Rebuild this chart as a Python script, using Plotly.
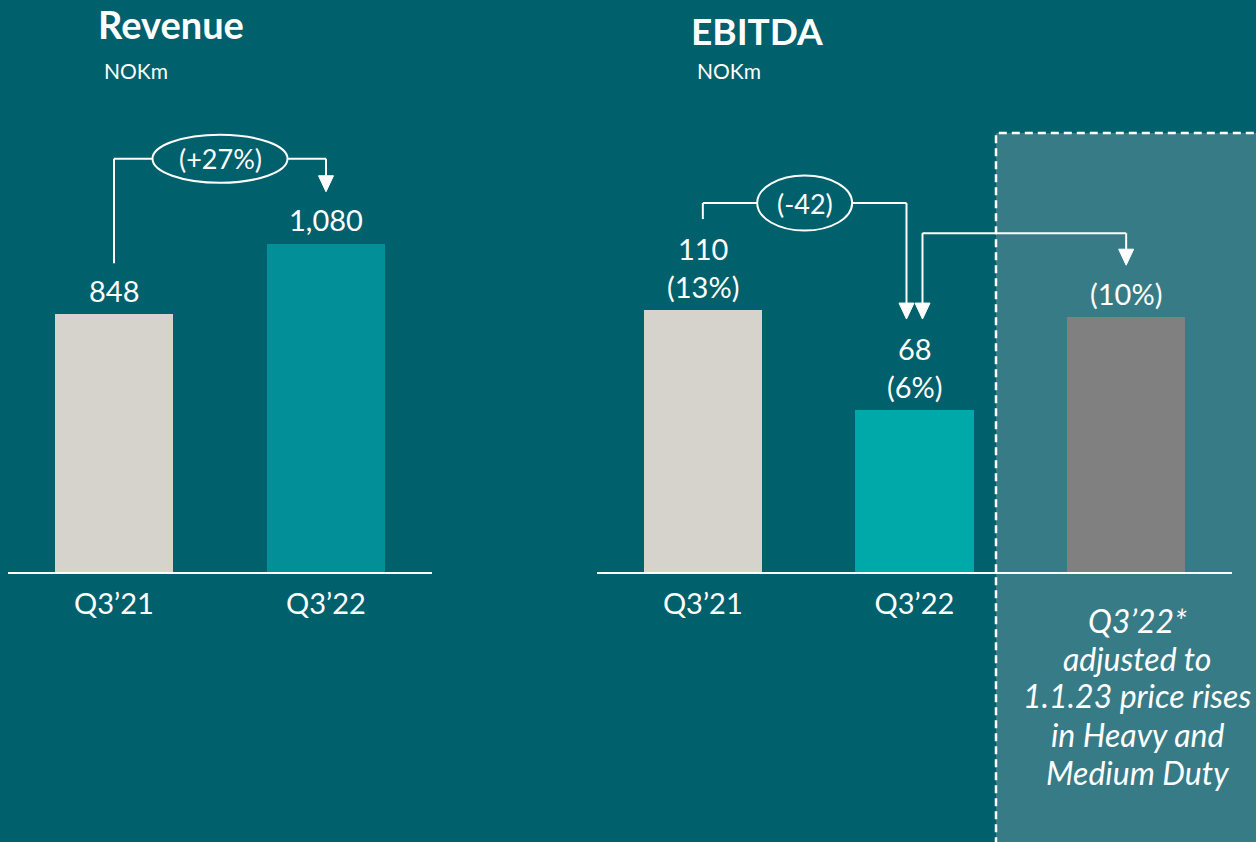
import plotly.graph_objects as go

# ---- data -------------------------------------------------------------
rev_cats = ["Q3’21", "Q3’22"]
rev_values = [848, 1080]
rev_labels = ["848", "1,080"]
rev_change = "(+27%)"

ebitda_cats = ["Q3’21", "Q3’22", "Q3’22*"]
ebitda_ticks = ["Q3’21", "Q3’22", ""]
ebitda_values = [110, 68, 107]
ebitda_value_labels = ["110", "68", ""]
ebitda_margins = ["(13%)", "(6%)", "(10%)"]
ebitda_change = "(-42)"
adjusted_note = ["Q3’22*", "adjusted to", "1.1.23 price rises", "in Heavy and", "Medium Duty"]

# ---- styling ----------------------------------------------------------
W, H = 1256, 842
BASE = 572                      # pixel row of the category axis
BG = "#00606C"
BOX_FILL = "#377B86"
BEIGE = "#D6D2CC"
REV_TEAL = "#038F98"
EB_TEAL = "#00A9A9"
GREY = "#808080"
FONT = "Lato"

rev_colors = [BEIGE, REV_TEAL]
eb_colors = [BEIGE, EB_TEAL, GREY]

rev_dom = [8 / W, 432 / W]
eb_dom = [597 / W, 1232 / W]
rev_rng = [-0.5, 1.5]
eb_rng = [-0.5, 2.5]
rev_ymax = 1882
eb_ymax = 240.2


def px_x(dom, rng, i):
    return dom[0] * W + (i - rng[0]) / (rng[1] - rng[0]) * (dom[1] - dom[0]) * W


def px_y(v, ymax):
    return BASE - v / ymax * BASE


def px(xp, yp):
    return xp / W, (BASE - yp) / BASE


fig = go.Figure()
fig.add_trace(go.Bar(x=rev_cats, y=rev_values, marker=dict(color=rev_colors, line_width=0),
                     width=0.56, xaxis="x", yaxis="y", hoverinfo="skip"))
fig.add_trace(go.Bar(x=ebitda_cats, y=ebitda_values, marker=dict(color=eb_colors, line_width=0),
                     width=0.56, xaxis="x2", yaxis="y2", hoverinfo="skip"))

shapes = []
annotations = []
WHITE = "white"


def seg(x0, y0, x1, y1):
    a = px(x0, y0)
    b = px(x1, y1)
    shapes.append(dict(type="line", xref="paper", yref="paper", x0=a[0], y0=a[1], x1=b[0], y1=b[1],
                       line=dict(color=WHITE, width=2)))


def arrow_down(x, tip, length=16, half=7.5):
    pts = [px(x - half, tip - length), px(x + half, tip - length), px(x, tip)]
    path = "M {} {} L {} {} L {} {} Z".format(pts[0][0], pts[0][1], pts[1][0], pts[1][1], pts[2][0], pts[2][1])
    shapes.append(dict(type="path", xref="paper", yref="paper", path=path,
                       fillcolor=WHITE, line=dict(color=WHITE, width=1)))


def oval(cx, cy, w, h, text):
    a = px(cx - w / 2, cy + h / 2)
    b = px(cx + w / 2, cy - h / 2)
    shapes.append(dict(type="circle", xref="paper", yref="paper", x0=a[0], y0=a[1], x1=b[0], y1=b[1],
                       line=dict(color=WHITE, width=2), fillcolor="rgba(0,0,0,0)"))
    c = px(cx, cy)
    annotations.append(dict(xref="paper", yref="paper", x=c[0], y=c[1], text=text, showarrow=False,
                            xanchor="center", yanchor="middle", font=dict(family=FONT, size=27, color=WHITE)))


# adjusted-price panel behind the third EBITDA bar
b0 = px(996, 133)
shapes.append(dict(type="rect", xref="paper", yref="paper", x0=b0[0], x1=1.05, y0=-0.6, y1=b0[1],
                   fillcolor=BOX_FILL, line=dict(color=WHITE, width=2.5, dash="8px,5px"), layer="below"))

# ---- Revenue change connector -----------------------------------------
r0 = px_x(rev_dom, rev_rng, 0)
r1 = px_x(rev_dom, rev_rng, 1)
rt0 = px_y(rev_values[0], rev_ymax)
rt1 = px_y(rev_values[1], rev_ymax)
lvl = min(rt0, rt1) - 85
ocx, ow = (r0 + r1) / 2, 135
seg(r0, rt0 - 51, r0, lvl)
seg(r0, lvl, ocx - ow / 2, lvl)
seg(ocx + ow / 2, lvl, r1, lvl)
tip = rt1 - 52
seg(r1, lvl, r1, tip - 15)
arrow_down(r1, tip)
oval(ocx, lvl, ow, 48, rev_change)

# ---- EBITDA change connectors -----------------------------------------
e0 = px_x(eb_dom, eb_rng, 0)
e1 = px_x(eb_dom, eb_rng, 1)
e2 = px_x(eb_dom, eb_rng, 2)
et0 = px_y(ebitda_values[0], eb_ymax)
et1 = px_y(ebitda_values[1], eb_ymax)
et2 = px_y(ebitda_values[2], eb_ymax)
lvl_a = et0 - 107
xa = e1 - 8
ecx, ew = (e0 + xa) / 2, 95
seg(e0, et0 - 91, e0, lvl_a)
seg(e0, lvl_a, ecx - ew / 2, lvl_a)
seg(ecx + ew / 2, lvl_a, xa, lvl_a)
tip_a = et1 - 91
seg(xa, lvl_a, xa, tip_a - 15)
arrow_down(xa, tip_a)
oval(ecx, lvl_a, ew, 55, ebitda_change)

lvl_b = et2 - 84
xb = e1 + 8
seg(xb, tip_a - 15, xb, lvl_b)
seg(xb, lvl_b, e2, lvl_b)
tip_b = et2 - 52
seg(e2, lvl_b, e2, tip_b - 15)
arrow_down(xb, tip_a)
arrow_down(e2, tip_b)

# ---- value labels -------------------------------------------------------
LBL = dict(family=FONT, size=29, color=WHITE)
for c, v, t in zip(rev_cats, rev_values, rev_labels):
    annotations.append(dict(xref="x", yref="y", x=c, y=v, text=t, showarrow=False,
                            xanchor="center", yanchor="middle", yshift=24, font=LBL))
for c, v, t, m in zip(ebitda_cats, ebitda_values, ebitda_value_labels, ebitda_margins):
    lines = [s for s in (t, m) if s]
    annotations.append(dict(xref="x2", yref="y2", x=c, y=v, text="<br>".join(lines), showarrow=False,
                            xanchor="center", yanchor="middle", yshift=24 + (len(lines) - 1) * 19,
                            font=LBL))

# ---- titles -------------------------------------------------------------
for xl, yl, text, size, bold in [(96, 24, "Revenue", 38, True), (102, 70, "NOKm", 21, False),
                                 (689, 31, "EBITDA", 37, True), (695, 70, "NOKm", 21, False)]:
    p = px(xl, yl)
    annotations.append(dict(xref="paper", yref="paper", x=p[0], y=p[1], showarrow=False,
                            text="<b>{}</b>".format(text) if bold else text,
                            xanchor="left", yanchor="middle",
                            font=dict(family=FONT, size=size, color=WHITE)))

# italic note under the adjusted bar, one line at a time for even spacing
for k, line in enumerate(adjusted_note):
    p = px(1137, 620 + 38 * k)
    annotations.append(dict(xref="paper", yref="paper", x=p[0], y=p[1], showarrow=False,
                            text="<i>{}</i>".format(line), xanchor="center", yanchor="middle",
                            font=dict(family=FONT, size=32, color=WHITE)))

axis_common = dict(showgrid=False, zeroline=False, showline=True, linecolor=WHITE, linewidth=2,
                   ticks="", ticklabelstandoff=5,
                   tickfont=dict(family=FONT, size=29, color=WHITE), fixedrange=True)
fig.update_layout(
    width=W, height=H, margin=dict(l=0, r=0, t=0, b=H - BASE),
    paper_bgcolor=BG, plot_bgcolor="rgba(0,0,0,0)",
    showlegend=False, bargap=0,
    xaxis=dict(domain=rev_dom, range=rev_rng, type="category", anchor="y", **axis_common),
    xaxis2=dict(domain=eb_dom, range=eb_rng, type="category", anchor="y2",
                tickmode="array", tickvals=ebitda_cats, ticktext=ebitda_ticks, **axis_common),
    yaxis=dict(domain=[0, 1], range=[0, rev_ymax], visible=False, fixedrange=True),
    yaxis2=dict(domain=[0, 1], range=[0, eb_ymax], visible=False, fixedrange=True, anchor="x2"),
    shapes=shapes, annotations=annotations,
)

fig.write_html("out.html", config={"displayModeBar": False})
